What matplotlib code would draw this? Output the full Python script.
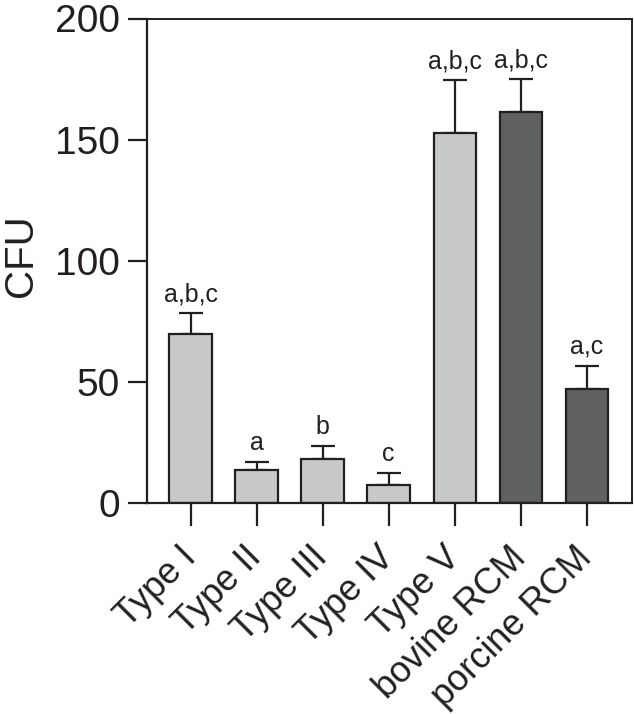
import matplotlib
matplotlib.use("Agg")
import matplotlib.pyplot as plt

plt.rcParams['font.family'] = ['Liberation Sans', 'DejaVu Sans']

categories = ["Type I", "Type II", "Type III", "Type IV", "Type V", "bovine RCM", "porcine RCM"]
means = [69.6, 13.6, 18.2, 7.4, 152.9, 161.5, 46.9]
errors = [8.7, 3.4, 5.3, 5.1, 21.7, 13.5, 9.7]
letters = ["a,b,c", "a", "b", "c", "a,b,c", "a,b,c", "a,c"]
light = "#c8c9cb"
dark = "#5f6062"
colors = [light, light, light, light, light, dark, dark]
yticks = [0, 50, 100, 150, 200]

fig = plt.figure(figsize=(6.34, 7.14), dpi=100)
ax = fig.add_axes([147/634, 1-503/714, (632-147)/634, (503-18.5)/714])

x = list(range(len(categories)))
ax.bar(x, means, width=0.64, color=colors, edgecolor="#231f20", linewidth=1.6, zorder=2)
ax.errorbar(x, means, yerr=[[0]*len(errors), errors], fmt="none", ecolor="#231f20",
            elinewidth=1.6, capsize=8.3, capthick=1.6, zorder=1)

for xi, m, e, t in zip(x, means, errors, letters):
    ax.annotate(t, (xi, m + e), xytext=(0, 5), textcoords="offset points",
                ha="center", va="bottom", fontsize=18, color="#231f20")

ax.set_xlim(-0.659, 6.686)
ax.set_ylim(0, 200)
ax.set_yticks(yticks)
ax.set_yticklabels([str(v) for v in yticks], fontsize=28, color="#231f20")
ax.set_xticks(x)
ax.set_xticklabels(categories, rotation=45, ha="right", va="center",
                   rotation_mode="anchor", fontsize=26, color="#231f20")
ax.tick_params(axis="y", length=13.7, width=1.6, pad=6, color="#231f20")
ax.tick_params(axis="x", length=16.6, width=1.6, pad=19, color="#231f20")
ax.set_ylabel("CFU", fontsize=29, color="#231f20")
ax.yaxis.label.set_va("center")
ax.yaxis.label.set_ha("center")
ax.yaxis.set_label_coords((21 - 147) / 485, 0.51)

for side in ["left", "bottom"]:
    ax.spines[side].set_linewidth(1.6)
    ax.spines[side].set_color("#231f20")
for side in ["top", "right"]:
    ax.spines[side].set_linewidth(1.4)
    ax.spines[side].set_color("#231f20")

fig.savefig("out.png", dpi=100)
